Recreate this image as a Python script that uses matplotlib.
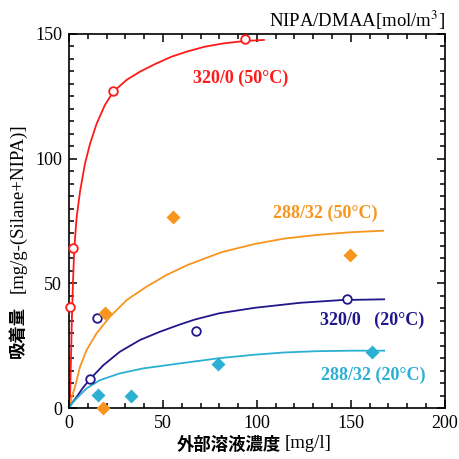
import matplotlib.pyplot as plt
from matplotlib.ticker import MultipleLocator

# --- data ---
# 320/0 (50C) : open red circles + fitted curve
red_x = [0.5, 2.3, 23.6, 93.6]
red_y = [40.6, 64.3, 127.2, 147.9]
red_cx = [0.4, 1.0, 1.5, 2.1, 2.7, 3.3, 4.1, 5.9, 8.5, 11.2, 14.7, 19.1, 23.6, 30.7,
          37.8, 46, 54.6, 63, 72.3, 82, 93.6, 103.7]
red_cy = [0, 18, 35, 50, 62, 69, 76.7, 87, 98, 106, 114, 121.5, 126.9, 131.6,
          134.9, 138, 140.9, 143, 144.9, 146.2, 147.2, 147.6]

# 288/32 (50C) : orange diamonds + fitted curve
org_x = [17.9, 19.1, 55.5, 149.5]
org_y = [0, 38, 76.7, 61.4]
org_cx = [0, 1.5, 3.2, 5.9, 9.4, 14.7, 21.8, 30.7, 41.3, 52, 63.5, 81.2, 98.9, 115,
          131.7, 150, 167.2]
org_cy = [0, 4.5, 8.5, 16.6, 23.3, 30, 36.6, 43.3, 48.7, 53.4, 57.5, 62.5, 65.8, 68,
          69.4, 70.5, 71.1]

# 320/0 (20C) : open navy circles + fitted curve
nav_x = [11.2, 15.1, 67.4, 147.7]
nav_y = [11.6, 36.2, 30.9, 43.6]
nav_cx = [0, 1.8, 4.1, 7.5, 11.2, 18.3, 27.1, 37.8, 48.4, 59, 67, 80, 98.9, 122.9,
          145, 167.7]
nav_cy = [0, 2.2, 4.5, 8.2, 11.6, 17.2, 22.6, 27.3, 30.6, 33.5, 35.5, 38, 40.2, 42.2,
          43.3, 43.6]

# 288/32 (20C) : cyan diamonds + fitted curve
cyn_x = [15.6, 33, 79.4, 161.5]
cyn_y = [5.2, 4.8, 17.5, 22.3]
cyn_cx = [0, 1.8, 4.1, 9.4, 16.5, 27.1, 39.5, 59, 80, 98.9, 115, 131.7, 150, 167.7]
cyn_cy = [0, 2.0, 3.9, 7.9, 11.2, 13.9, 15.9, 17.9, 20.0, 21.4, 22.3, 22.8, 23, 23]

RED = "#ff1a1a"
ORANGE = "#f7951e"
NAVY = "#22178a"
CYAN = "#2cb0d2"
SERIF = "Liberation Serif"
JP = "Noto Sans CJK JP"

fig = plt.figure(figsize=(4.6, 4.59), dpi=100)
ax = fig.add_axes([0.15, 0.111, 0.817, 0.815])

ax.plot(red_cx, red_cy, color=RED, lw=1.3, solid_joinstyle="round")
ax.plot(org_cx, org_cy, color=ORANGE, lw=1.3, solid_joinstyle="round")
ax.plot(nav_cx, nav_cy, color=NAVY, lw=1.3, solid_joinstyle="round")
ax.plot(cyn_cx, cyn_cy, color=CYAN, lw=1.3, solid_joinstyle="round")

ax.plot(red_x, red_y, "o", ms=6.2, mfc="white", mec=RED, mew=1.3, clip_on=False, zorder=5)
ax.plot(nav_x, nav_y, "o", ms=6.2, mfc="white", mec=NAVY, mew=1.3, clip_on=False, zorder=5)
ax.plot(org_x, org_y, "D", ms=7.5, color=ORANGE, mec="none", clip_on=False, zorder=5)
ax.plot(cyn_x, cyn_y, "D", ms=7.5, color=CYAN, mec="none", clip_on=False, zorder=5)

ax.set_xlim(0, 200)
ax.set_ylim(0, 150)
ax.xaxis.set_major_locator(MultipleLocator(50))
ax.xaxis.set_minor_locator(MultipleLocator(10))
ax.yaxis.set_major_locator(MultipleLocator(50))
ax.yaxis.set_minor_locator(MultipleLocator(5))
ax.tick_params(which="both", direction="in", top=True, right=True, width=1.1)
ax.tick_params(which="major", length=6, labelsize=13, pad=5)
ax.tick_params(which="minor", length=3.6)
for lab in ax.get_xticklabels() + ax.get_yticklabels():
    lab.set_family(SERIF)
for s in ax.spines.values():
    s.set_linewidth(1.2)

# series labels
ax.text(66, 132.4, "320/0 (50°C)", color=RED, fontsize=13, fontweight="bold", family=SERIF, va="center")
ax.text(108.3, 78, "288/32 (50°C)", color=ORANGE, fontsize=13, fontweight="bold", family=SERIF, va="center")
ax.text(133.5, 35.3, "320/0   (20°C)", color=NAVY, fontsize=13, fontweight="bold", family=SERIF, va="center")
ax.text(134, 13.2, "288/32 (20°C)", color=CYAN, fontsize=13, fontweight="bold", family=SERIF, va="center")

fig.text(445 / 460, 1 - 20 / 459, "NIPA/DMAA[mol/m$^3$]", ha="right", va="center",
         fontsize=13.5, family=SERIF, math_fontfamily="stix")

# axis labels: Japanese part bold gothic, unit part serif
fig.text(281 / 460, 1 - 445 / 459, "外部溶液濃度", ha="right", va="center",
         fontsize=12.5, fontweight="bold", family=JP)
fig.text(285 / 460, 1 - 444 / 459, "[mg/l]", ha="left", va="center", fontsize=13.5, family=SERIF)
fig.text(18 / 460, 1 - 332 / 459, "吸着量", ha="center", va="center", rotation=90,
         fontsize=12.5, fontweight="bold", family=JP)
fig.text(18 / 460, 1 - 208 / 459, "[mg/g-(Silane+NIPA)]", ha="center", va="center", rotation=90,
         fontsize=13.5, family=SERIF)

fig.savefig("out.png", dpi=100)
